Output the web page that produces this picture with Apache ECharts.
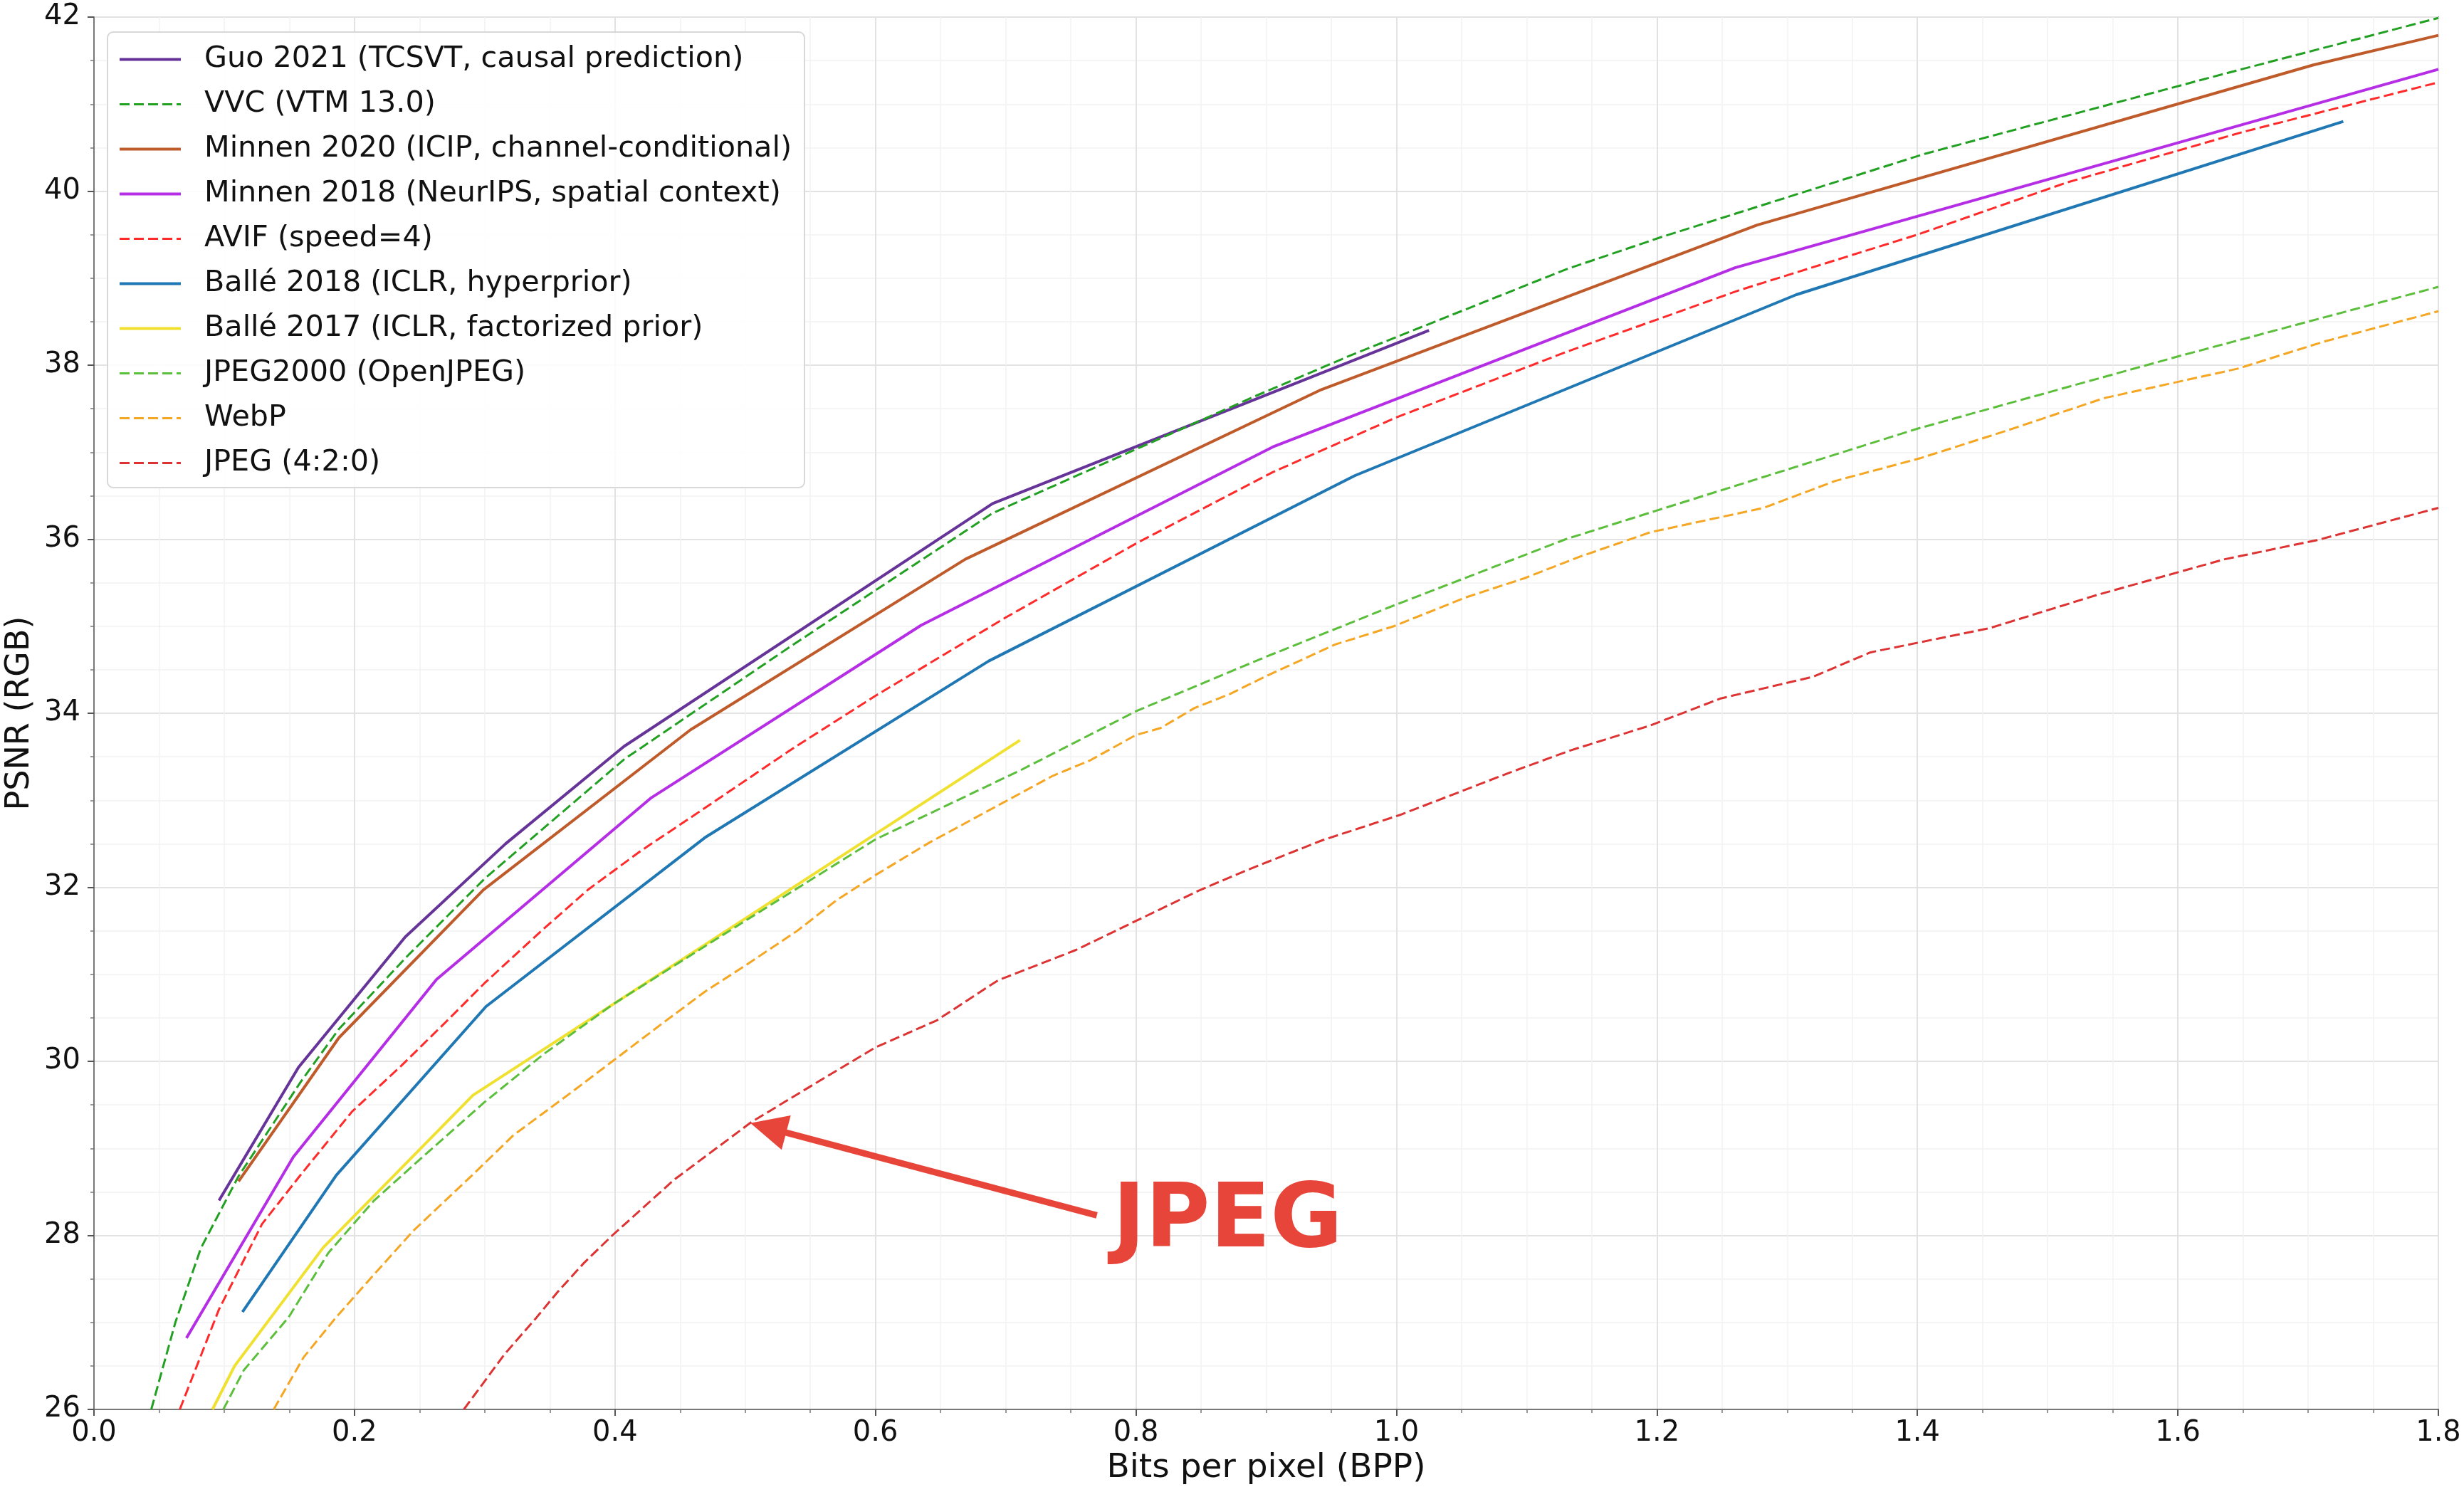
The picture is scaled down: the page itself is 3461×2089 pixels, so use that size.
<!DOCTYPE html>
<html><head><meta charset="utf-8">
<script src="https://cdn.jsdelivr.net/npm/echarts@6/dist/echarts.min.js"></script>
<style>html,body{margin:0;padding:0;background:#fff}#c{width:3461px;height:2089px}</style>
</head><body><div id="c"></div>
<script>
// ---- tick labels ----
const xTicks = [0.0, 0.2, 0.4, 0.6, 0.8, 1.0, 1.2, 1.4, 1.6, 1.8];
const yTicks = [26, 28, 30, 32, 34, 36, 38, 40, 42];

// ---- series names ----
const seriesNames = [
  'Guo 2021 (TCSVT, causal prediction)',
  'VVC (VTM 13.0)',
  'Minnen 2020 (ICIP, channel-conditional)',
  'Minnen 2018 (NeurIPS, spatial context)',
  'AVIF (speed=4)',
  'Ballé 2018 (ICLR, hyperprior)',
  'Ballé 2017 (ICLR, factorized prior)',
  'JPEG2000 (OpenJPEG)',
  'WebP',
  'JPEG (4:2:0)'
];

// ---- series values [bpp, psnr] ----
const guo2021 = [[0.096,28.40],[0.157,29.93],[0.239,31.43],[0.316,32.50],[0.407,33.62],[0.690,36.41],[1.025,38.40]];
const vvc = [[0.044,26.0],[0.0625,27.0],[0.082,27.85],[0.111,28.68],[0.159,29.77],[0.188,30.37],[0.240,31.20],[0.300,32.10],[0.407,33.47],[0.537,34.79],[0.690,36.30],[0.891,37.64],[0.966,38.12],[1.130,39.10],[1.203,39.47],[1.406,40.43],[1.636,41.35],[1.800,41.99]];
const minnen2020 = [[0.111,28.62],[0.188,30.27],[0.299,31.97],[0.458,33.81],[0.669,35.77],[0.941,37.71],[1.277,39.61],[1.704,41.45],[1.800,41.79]];
const minnen2018 = [[0.071,26.82],[0.153,28.90],[0.263,30.94],[0.428,33.03],[0.635,35.01],[0.905,37.06],[1.260,39.12],[1.800,41.40]];
const avif = [[0.0659,26.0],[0.096,27.15],[0.129,28.13],[0.160,28.72],[0.198,29.42],[0.236,29.95],[0.270,30.45],[0.300,30.90],[0.345,31.52],[0.380,31.98],[0.420,32.42],[0.460,32.82],[0.537,33.60],[0.600,34.20],[0.700,35.10],[0.800,35.95],[0.905,36.77],[1.000,37.40],[1.130,38.15],[1.263,38.86],[1.400,39.50],[1.515,40.10],[1.650,40.68],[1.800,41.25]];
const balle2018 = [[0.114,27.12],[0.186,28.69],[0.301,30.63],[0.469,32.57],[0.687,34.60],[0.968,36.73],[1.307,38.81],[1.727,40.80]];
const balle2017 = [[0.091,26.0],[0.108,26.50],[0.176,27.86],[0.291,29.61],[0.711,33.69]];
const jpeg2000 = [[0.0993,26.0],[0.115,26.45],[0.1495,27.06],[0.180,27.80],[0.215,28.40],[0.256,28.95],[0.299,29.52],[0.345,30.08],[0.398,30.65],[0.4985,31.60],[0.600,32.55],[0.712,33.35],[0.801,34.03],[0.900,34.65],[1.000,35.25],[1.130,36.00],[1.200,36.33],[1.400,37.27],[1.600,38.10],[1.800,38.90]];
const webp = [[0.138,26.0],[0.161,26.60],[0.186,27.06],[0.215,27.55],[0.245,28.05],[0.291,28.70],[0.322,29.15],[0.368,29.66],[0.398,30.00],[0.435,30.42],[0.469,30.80],[0.500,31.10],[0.540,31.50],[0.570,31.85],[0.600,32.14],[0.641,32.51],[0.694,32.94],[0.736,33.28],[0.765,33.46],[0.800,33.75],[0.819,33.83],[0.845,34.06],[0.872,34.22],[0.899,34.42],[0.953,34.79],[0.998,35.00],[1.053,35.33],[1.098,35.55],[1.141,35.80],[1.195,36.08],[1.282,36.36],[1.337,36.67],[1.402,36.93],[1.467,37.24],[1.543,37.62],[1.646,37.96],[1.712,38.27],[1.800,38.62]];
const jpeg = [[0.284,26.0],[0.315,26.63],[0.340,27.06],[0.356,27.35],[0.376,27.68],[0.398,28.00],[0.4455,28.64],[0.5046,29.30],[0.552,29.73],[0.600,30.16],[0.647,30.47],[0.694,30.93],[0.754,31.28],[0.801,31.62],[0.848,31.96],[0.884,32.19],[0.943,32.54],[1.0025,32.83],[1.0856,33.31],[1.133,33.57],[1.195,33.86],[1.249,34.17],[1.320,34.42],[1.364,34.70],[1.456,34.98],[1.538,35.36],[1.636,35.77],[1.707,35.99],[1.800,36.36]];

// ---- annotation (data coords) ----
const arrowTip = [0.504, 29.29];
const arrowTail = [0.770, 28.23];
const annotText = 'JPEG';
const annotTextPos = [0.782, 28.14];

const allData = [guo2021, vvc, minnen2020, minnen2018, avif, balle2018, balle2017, jpeg2000, webp, jpeg];
const colors = ['#663399', '#22a022', '#bf5b2a', '#b52ee6', '#ff2a2a', '#1f77b4', '#f0e130', '#5cbf3c', '#f5a623', '#dd3333'];
const dashed = [false, true, false, false, true, false, false, true, true, true];

const FONT = 'DejaVu Sans';
const chart = echarts.init(document.getElementById('c'), null, {renderer: 'canvas'});

const series = allData.map((d, i) => ({
  name: seriesNames[i],
  type: 'line',
  data: d,
  symbol: 'none',
  clip: true,
  z: 2 + i,
  lineStyle: {
    color: colors[i],
    width: dashed[i] ? 3 : 4,
    type: dashed[i] ? [14, 6] : 'solid'
  },
  itemStyle: {color: colors[i]}
}));

chart.setOption({
  animation: false,
  backgroundColor: '#ffffff',
  grid: {left: 132, right: 36, top: 24, bottom: 109, containLabel: false, outerBoundsMode: 'none',
         show: true, borderColor: '#777', borderWidth: 2, backgroundColor: 'transparent'},
  legend: {
    orient: 'vertical',
    left: 151, top: 45,
    padding: [18, 18, 14, 15],
    itemWidth: 86, itemHeight: 20, itemGap: 22,
    backgroundColor: 'rgba(255,255,255,0.85)',
    borderColor: '#d8d8d8', borderWidth: 2, borderRadius: 8,
    itemStyle: {opacity: 0},
    lineStyle: {width: 'inherit'},
    textStyle: {fontFamily: FONT, fontSize: 41.3, color: '#111', lineHeight: 41, padding: [0, 0, 0, 28]},
    data: seriesNames
  },
  xAxis: {
    type: 'value', min: xTicks[0], max: xTicks[xTicks.length - 1], interval: 0.2,
    name: 'Bits per pixel (BPP)', nameLocation: 'middle', nameGap: 56,
    nameTextStyle: {fontFamily: FONT, fontSize: 47, color: '#111'},
    axisLine: {show: true, lineStyle: {color: '#777', width: 2}},
    axisTick: {show: true, inside: false, length: 9, lineStyle: {color: '#555', width: 2}},
    minorTick: {show: true, splitNumber: 4, length: 5, lineStyle: {color: '#777', width: 1.5}},
    axisLabel: {fontFamily: FONT, fontSize: 40, color: '#111', margin: 14, formatter: v => v.toFixed(1)},
    splitLine: {show: true, lineStyle: {color: '#e2e2e2', width: 2}},
    minorSplitLine: {show: true, lineStyle: {color: '#f2f2f2', width: 1.5}}
  },
  yAxis: {
    type: 'value', min: yTicks[0], max: yTicks[yTicks.length - 1], interval: 2,
    name: 'PSNR (RGB)', nameLocation: 'middle', nameGap: 80, nameRotate: 90,
    nameTextStyle: {fontFamily: FONT, fontSize: 46, color: '#111'},
    axisLine: {show: true, lineStyle: {color: '#777', width: 2}},
    axisTick: {show: true, inside: false, length: 9, lineStyle: {color: '#555', width: 2}},
    minorTick: {show: true, splitNumber: 4, length: 5, lineStyle: {color: '#777', width: 1.5}},
    axisLabel: {fontFamily: FONT, fontSize: 40, color: '#111', margin: 19, formatter: v => String(v)},
    splitLine: {show: true, lineStyle: {color: '#e2e2e2', width: 2}},
    minorSplitLine: {show: true, lineStyle: {color: '#f2f2f2', width: 1.5}}
  },
  series: series
});

// ---- annotation drawn from data coordinates ----
const tip = chart.convertToPixel({gridIndex: 0}, arrowTip);
const tail = chart.convertToPixel({gridIndex: 0}, arrowTail);
const tpos = chart.convertToPixel({gridIndex: 0}, annotTextPos);
const dx = tip[0] - tail[0], dy = tip[1] - tail[1];
const len = Math.sqrt(dx * dx + dy * dy);
const ux = dx / len, uy = dy / len;
const headLen = 52, headHalf = 25;
const base = [tip[0] - ux * headLen, tip[1] - uy * headLen];
const px = -uy, py = ux;
const annColor = '#e8453a';
chart.setOption({
  graphic: [
    {type: 'line', z: 100, shape: {x1: tail[0], y1: tail[1], x2: base[0] + ux * 4, y2: base[1] + uy * 4},
     style: {stroke: annColor, lineWidth: 9}},
    {type: 'polygon', z: 100, shape: {points: [tip, [base[0] + px * headHalf, base[1] + py * headHalf], [base[0] - px * headHalf, base[1] - py * headHalf]]},
     style: {fill: annColor}},
    {type: 'text', z: 100, x: tpos[0], y: tpos[1],
     style: {text: annotText, fill: annColor, font: 'bold 124px "DejaVu Sans"', textAlign: 'left', textVerticalAlign: 'middle'}}
  ]
});
</script></body></html>
